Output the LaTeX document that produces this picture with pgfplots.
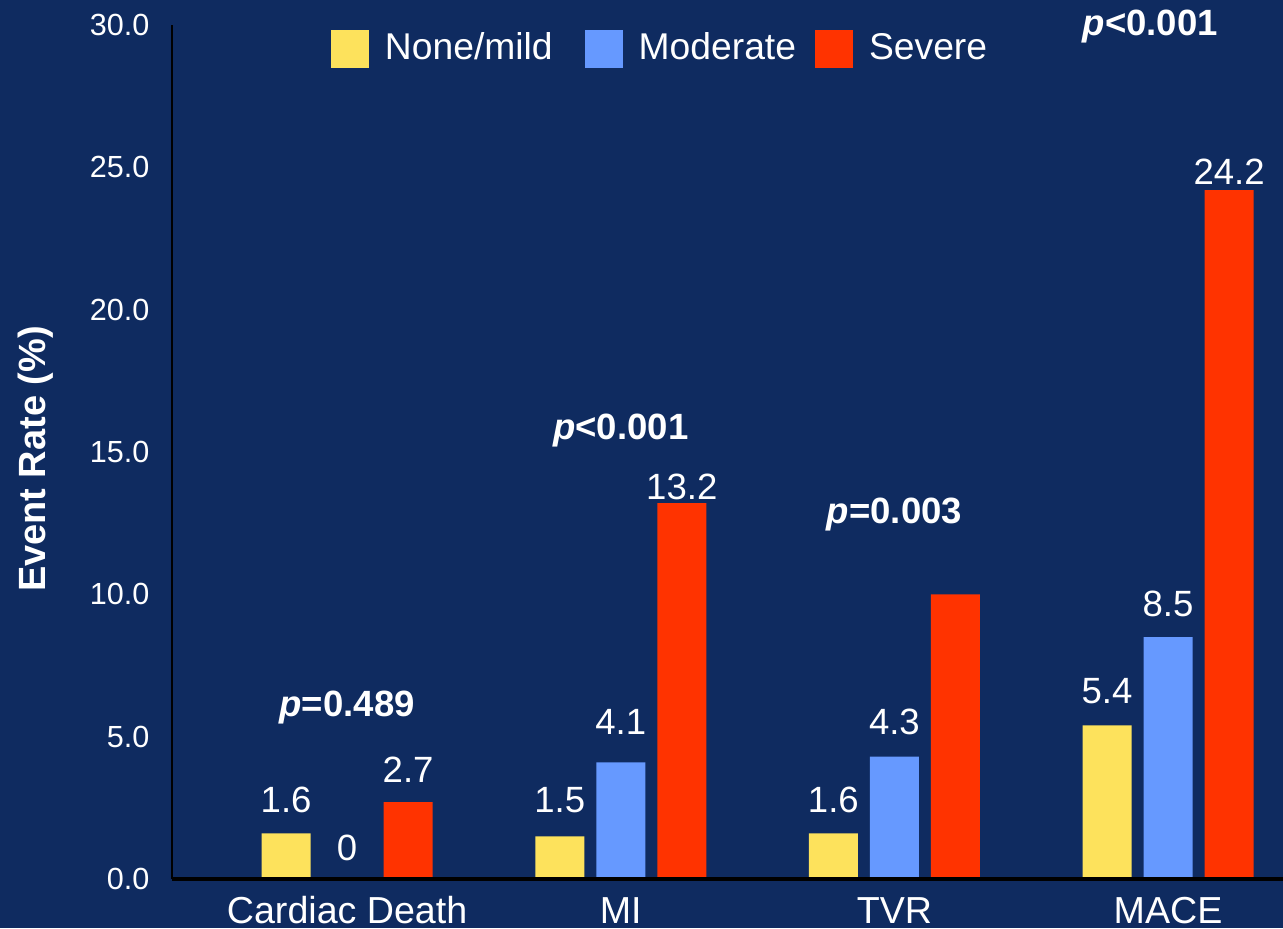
\documentclass[border=0pt]{standalone}
\usepackage{pgfplots}
\pgfplotsset{compat=1.18}
\usepackage{fontspec}
\setmainfont{Liberation Sans}

\definecolor{bg}{RGB}{15,43,96}
\definecolor{cyellow}{RGB}{253,226,92}
\definecolor{cblue}{RGB}{102,153,255}
\definecolor{cred}{RGB}{255,51,0}

\pgfplotsset{
  sqlegend/.style={legend image code/.code={\fill[##1] (0cm,-0.19cm) rectangle (0.38cm,0.19cm);}},
}
\tikzset{
  lbl/.style={text=white, font=\fontsize{10.4}{12}\selectfont, inner sep=0pt},
  pval/.style={text=white, font=\fontsize{10.4}{12}\selectfont\bfseries, inner sep=0pt},
}

\begin{document}
\begin{tikzpicture}
\fill[bg] (0,0) rectangle (12.83cm,9.28cm);
\useasboundingbox (0,0) rectangle (12.83cm,9.28cm);
\begin{axis}[
  at={(1.72cm,0.49cm)}, anchor=south west,
  scale only axis, width=11.11cm, height=8.54cm,
  xmin=-0.64, xmax=3.42, ymin=0, ymax=30,
  enlargelimits=false, clip=false, axis on top,
  ybar=0.12cm, bar width=0.49cm,
  axis x line*=bottom, axis y line*=left,
  x axis line style={-, line width=1.1pt, black},
  y axis line style={-, line width=0.85pt, black},
  major tick length=0pt,
  xtick={0,1,2,3}, xticklabels={Cardiac Death, MI, TVR, MACE},
  ytick={0,5,10,15,20,25,30},
  /pgf/number format/fixed, /pgf/number format/fixed zerofill,
  /pgf/number format/precision=1,
  /pgf/number format/assume math mode=true,
  tick label style={text=white},
  yticklabel style={font=\fontsize{8.7}{10}\selectfont, inner sep=0pt, xshift=-0.22cm},
  xticklabel style={font=\fontsize{10.7}{12}\selectfont, anchor=base, inner sep=0pt, yshift=-0.44cm},
  ylabel={Event Rate (\%)},
  every axis y label/.style={at={(axis description cs:-0.1143,0.4918)}, rotate=90, anchor=base,
    font=\fontsize{10.8}{12}\selectfont\bfseries, text=white},
  legend style={draw=none, fill=none, text=white, font=\fontsize{10.6}{12}\selectfont,
    at={(axis description cs:0.1431,0.9941)}, anchor=north west,
    inner sep=0pt, outer sep=0pt, nodes={inner sep=0pt},
    /tikz/every odd column/.append style={column sep=0.16cm},
    /tikz/every even column/.append style={column sep=0.32cm}},
  legend columns=3,
]
% event rates (%) per outcome: none/mild, moderate, severe
\addplot[fill=cyellow, draw=none, sqlegend] coordinates {(0,1.6) (1,1.5) (2,1.6) (3,5.4)};
\addplot[fill=cblue, draw=none, sqlegend] coordinates {(0,0) (1,4.1) (2,4.3) (3,8.5)};
\addplot[fill=cred, draw=none, sqlegend] coordinates {(0,2.7) (1,13.2) (2,10.0) (3,24.2)};
\legend{None/mild, Moderate\kern-0.13cm, Severe}

% value labels
\node[lbl] at (axis cs:-0.223,2.78) {1.6};
\node[lbl] at (axis cs:0,1.09) {0};
\node[lbl] at (axis cs:0.223,3.83) {2.7};
\node[lbl] at (axis cs:0.777,2.78) {1.5};
\node[lbl] at (axis cs:1,5.52) {4.1};
\node[lbl] at (axis cs:1.223,13.77) {13.2};
\node[lbl] at (axis cs:1.777,2.78) {1.6};
\node[lbl] at (axis cs:2,5.52) {4.3};
\node[lbl] at (axis cs:2.777,6.60) {5.4};
\node[lbl] at (axis cs:3,9.66) {8.5};
\node[lbl] at (axis cs:3.223,24.85) {24.2};

% significance
\node[pval] at (axis cs:0,6.02) {{\itshape p}=0.489};
\node[pval] at (axis cs:1,15.74) {{\itshape p}<0.001};
\node[pval] at (axis cs:2,12.79) {{\itshape p}=0.003};
\node[pval] at (axis cs:2.935,29.95) {{\itshape p}<0.001};
\end{axis}
\end{tikzpicture}
\end{document}
